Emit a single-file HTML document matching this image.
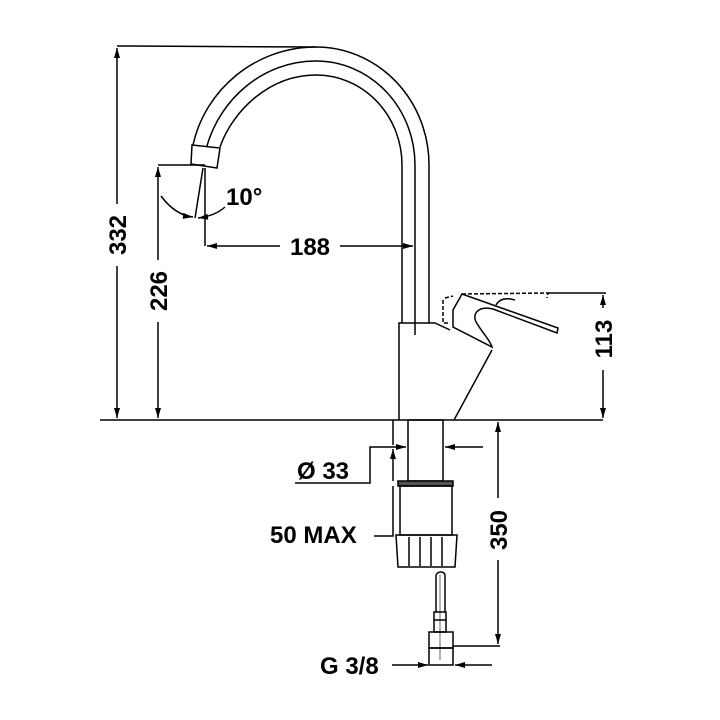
<!DOCTYPE html>
<html><head><style>html,body{margin:0;padding:0;background:#fff}svg{display:block}</style></head><body>
<svg width="720" height="720" viewBox="0 0 720 720" xmlns="http://www.w3.org/2000/svg" font-family="Liberation Sans, sans-serif" font-weight="bold">
<defs>
<marker id="a" viewBox="0 0 10 6" refX="10" refY="3" markerWidth="14" markerHeight="6" markerUnits="userSpaceOnUse" orient="auto-start-reverse"><path d="M0,0L10,3L0,6z" fill="#000"/></marker>
</defs>
<g fill="none" stroke="#000" stroke-width="1.5">
<path d="M429,323 V165 A113,118 0 0 0 316,47 C255,47 205,90 193,145"/>
<path d="M415,335 V165 A99,104 0 0 0 316,61 C262,61 220,100 207,146"/>
<path d="M402,323 V165 A86,90 0 0 0 316,75 C270,75 233,110 220,147"/>
<path d="M192,145 L220,148 L217,168 L191,164 Z" fill="#fff"/>
<line x1="117" y1="46" x2="316" y2="47"/>
<line x1="117" y1="48" x2="117" y2="418" marker-start="url(#a)" marker-end="url(#a)"/>
<line x1="158" y1="165" x2="205" y2="165"/>
<line x1="205" y1="168" x2="205" y2="246"/>
<line x1="203" y1="168" x2="195" y2="218"/>
<path d="M161,196 Q175,215 193,217" marker-end="url(#a)"/>
<path d="M225,207 Q215,216 198,218" marker-end="url(#a)"/>
<line x1="207" y1="246" x2="413" y2="246" marker-start="url(#a)" marker-end="url(#a)"/>
<line x1="158" y1="167" x2="158" y2="418" marker-start="url(#a)" marker-end="url(#a)"/>
<line x1="100" y1="420" x2="603" y2="420"/>
<path d="M399,420 V323 H435 L450,330"/>
<path d="M492,350 L454,420"/>
<path d="M462,294 L558,328 L557,333 L493,309 C478,305 470,315 478,325 C484,335 490,340 492,347 L453,327 L453,310 Z"/>
<path d="M496,305 C500,298 508,298 515,300"/>
<path d="M445,298 L453,296 M462,294 L548,293 L547,298 M443,300 L443,323 L449,323" stroke-dasharray="4,2"/>
<line x1="548" y1="293" x2="606" y2="293"/>
<line x1="603" y1="295" x2="603" y2="418" marker-start="url(#a)" marker-end="url(#a)"/>
<rect x="408" y="420" width="35" height="61"/>
<line x1="393" y1="420" x2="393" y2="445" />
<line x1="378" y1="447" x2="406" y2="447" marker-end="url(#a)"/>
<line x1="483" y1="447" x2="445" y2="447" marker-end="url(#a)"/>
<line x1="393" y1="449" x2="393" y2="481" marker-start="url(#a)"/>
<path d="M295,483 H370 V447 H378"/>
<rect x="398" y="481" width="55" height="5" fill="#555"/>
<rect x="400" y="486" width="52" height="49"/>
<path d="M396,535 H457 L455,567 H398 Z"/>
<path d="M409,537 V566 M420,537 V566 M431,537 V566 M442,537 V566"/>
<path d="M374,536 H393 V486"/>
<path d="M436,575 V612 M445,575 V612 M436,575 C438,571 444,571 445,575"/>
<rect x="434" y="612" width="12" height="20"/>
<line x1="434" y1="620" x2="446" y2="620"/>
<rect x="429" y="632" width="24" height="16"/>
<rect x="429" y="648" width="24" height="17"/>
<line x1="440" y1="575" x2="440" y2="660" stroke-width="0.6"/>
<line x1="453" y1="646" x2="500" y2="646"/>
<line x1="498" y1="422" x2="498" y2="644" marker-start="url(#a)" marker-end="url(#a)"/>
<line x1="392" y1="665" x2="428" y2="665" marker-end="url(#a)"/>
<line x1="492" y1="665" x2="455" y2="665" marker-end="url(#a)"/>
</g>
<g font-size="24" fill="#000">
<rect x="102" y="204" width="32" height="62" fill="#fff"/>
<text transform="translate(126,235) rotate(-90)" text-anchor="middle">332</text>
<rect x="146" y="260" width="26" height="62" fill="#fff"/>
<text transform="translate(167,291) rotate(-90)" text-anchor="middle">226</text>
<rect x="280" y="234" width="60" height="24" fill="#fff"/>
<text x="310" y="255" text-anchor="middle">188</text>
<text x="226" y="205">10°</text>
<rect x="590" y="308" width="26" height="62" fill="#fff"/>
<text transform="translate(612,339) rotate(-90)" text-anchor="middle">113</text>
<rect x="486" y="498" width="26" height="62" fill="#fff"/>
<text transform="translate(507,530) rotate(-90)" text-anchor="middle">350</text>
<text x="297" y="479">Ø 33</text>
<text x="270" y="543">50 MAX</text>
<text x="320" y="674">G 3/8</text>
</g>
</svg>
</body></html>
